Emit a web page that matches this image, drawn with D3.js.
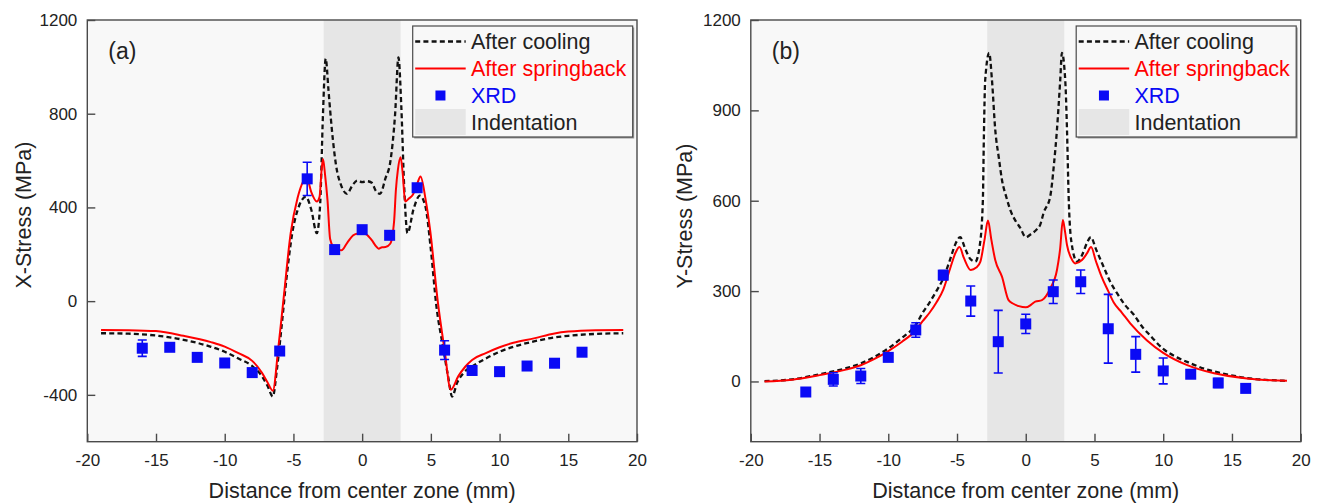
<!DOCTYPE html>
<html>
<head>
<meta charset="utf-8">
<script src="https://cdn.jsdelivr.net/npm/d3@7"></script>
<style>
  html, body { margin: 0; padding: 0; background: #fff; }
  svg { display: block; font-family: Arial, "Liberation Sans", sans-serif; }
</style>
</head>
<body>
<svg id="chart" width="1322" height="503"></svg>
<script>
// ---- shared axis data ----
const xTicks = [-20, -15, -10, -5, 0, 5, 10, 15, 20];
const xTitle = "Distance from center zone (mm)";
const indentationZone = [-2.8, 2.8];
const legendLabels = ["After cooling", "After springback", "XRD", "Indentation"];
const xrdPositions = [-16, -14, -12, -10, -8, -6, -4, -2, 0, 2, 4, 6, 8, 10, 12, 14, 16];

// ---- (a) X-stress ----
const xStressTicks = [-400, 0, 400, 800, 1200];
const xStressCooling = [
  [-19,-137],[-17,-139],[-15,-147],[-13,-165],[-11,-195],[-10,-216],[-9,-245],[-8,-277],
  [-7.3,-320],[-6.9,-360],[-6.5,-407],[-6.2,-290],[-5.9,-130],[-5.5,100],[-5.1,285],
  [-4.6,405],[-4.1,445],[-3.7,390],[-3.3,290],[-3.05,420],[-2.85,800],[-2.65,1035],
  [-2.45,900],[-2.2,730],[-1.9,580],[-1.5,490],[-1.1,458],[-0.7,495],[-0.35,515],[0,508],
  [0.35,512],[0.7,505],[1.0,470],[1.3,458],[1.7,525],[2.05,595],[2.4,800],[2.64,1040],
  [2.85,830],[3.05,500],[3.3,290],[3.75,395],[4.2,450],[4.6,405],[5.0,220],[5.4,-20],
  [5.9,-200],[6.25,-320],[6.55,-407],[6.9,-350],[7.4,-305],[8,-279],[9,-245],[10,-216],
  [11,-195],[12.5,-172],[14,-155],[15,-148],[17,-140],[19,-137]
];
const xStressSpringback = [
  [-19,-123],[-17,-124],[-15,-128],[-13,-148],[-11,-175],[-10,-194],[-9,-222],[-8,-255],
  [-7.3,-305],[-6.9,-345],[-6.5,-382],[-6.1,-200],[-5.7,20],[-5.2,290],[-4.7,440],
  [-4.3,510],[-4.05,530],[-3.7,465],[-3.3,425],[-3.1,445],[-2.95,560],[-2.85,607],
  [-2.7,540],[-2.52,430],[-2.33,265],[-2.1,232],[-1.8,220],[-1.5,217],[-1.1,248],
  [-0.65,281],[-0.3,289],[0,290],[0.3,285],[0.7,260],[1.0,235],[1.2,224],[1.45,230],
  [1.7,231],[2.04,245],[2.33,345],[2.45,470],[2.6,560],[2.8,614],[2.95,545],[3.13,425],
  [3.4,438],[3.7,455],[4.0,500],[4.25,532],[4.6,440],[4.95,302],[5.5,0],[6.0,-209],
  [6.45,-378],[7.0,-320],[7.5,-280],[8,-251],[9,-222],[10,-197],[11,-178],[12.5,-159],
  [14,-138],[15,-130],[17,-124],[19,-123]
];
const xStressXRD    = [-201, -197, -240, -264, -305, -213, 522, 220, 305, 281, 484, -209, -296, -301, -277, -265, -218];
const xStressXRDErr = [  35,   12,    0,    0,    0,    0,  71,   0,   0,   0,   0,   40,    0,    0,    0,    0,    0];

// ---- (b) Y-stress ----
const yStressTicks = [0, 300, 600, 900, 1200];
const yStressCooling = [
  [-19,1],[-17,7],[-15,24],[-13,45],[-12,60],[-11,82],[-10,110],[-9,145],[-8,188],
  [-7.5,228],[-7,262],[-6.5,300],[-6,342],[-5.5,405],[-5.1,458],[-4.77,479],[-4.4,440],
  [-4.0,405],[-3.67,398],[-3.35,450],[-3.12,600],[-3.05,800],[-2.95,1000],[-2.66,1091],
  [-2.46,1002],[-2.22,836],[-1.95,740],[-1.73,669],[-1.4,610],[-1.13,570],[-0.7,530],
  [-0.4,510],[0,479],[0.4,490],[0.81,505],[1.05,520],[1.3,560],[1.78,614],[2.05,720],
  [2.27,836],[2.51,1002],[2.63,1091],[2.87,1002],[3.0,836],[3.12,614],[3.3,470],
  [3.73,398],[4.1,420],[4.45,460],[4.74,479],[5.1,440],[5.66,381],[6.1,335],[6.64,293],
  [7.2,255],[7.85,222],[8.5,180],[9,155],[10,108],[11,80],[12,60],[13,42],[14,30],
  [16,12],[19,2]
];
const yStressSpringback = [
  [-19,0],[-17,6],[-15,21],[-13,40],[-12,54],[-11,75],[-10,101],[-9,132],[-8,170],
  [-7.5,200],[-7,228],[-6.5,262],[-6,305],[-5.5,375],[-5.1,428],[-4.82,446],[-4.5,410],
  [-4.0,370],[-3.6,378],[-3.3,398],[-3.0,470],[-2.75,534],[-2.5,470],[-2.22,403],
  [-1.73,348],[-1.25,270],[-0.9,258],[-0.5,250],[0,246],[0.4,255],[0.69,265],[1.18,270],
  [1.5,285],[1.78,309],[2.27,370],[2.5,440],[2.7,536],[2.85,500],[3.0,453],[3.3,410],
  [3.6,392],[4.09,403],[4.45,425],[4.75,446],[5.1,400],[5.5,350],[6.0,300],[6.4,262],
  [7.0,228],[7.6,193],[8.8,137],[10,95],[11.7,55],[13.7,27],[16.1,10],[19,2]
];
const yStressXRD    = [-35, 7, 18, 80, 171, 353, 267, 132, 191, 298, 331, 175, 90, 35, 24, -5, -23];
const yStressXRDErr = [  0, 22, 25,  0,  24,  15,  50, 104,  32,  39,  39, 114, 59, 43,  0, 15,   0];

// ---- styles ----
const COLORS = { cooling: "#111", springback: "#ff0000", xrd: "#0a0af5", band: "#e6e6e6",
                 plotBg: "#f8f8f8", frame: "#4a4a4a", text: "#222" };

const panels = [
  { left: 87.3, right: 637, top: 20, bottom: 441.7, yDomain: [-600, 1200], yTicks: xStressTicks,
    yTitle: "X-Stress (MPa)", titleX: 31, titleY: 215, tag: "(a)",
    cooling: xStressCooling, springback: xStressSpringback, xrd: xStressXRD, err: xStressXRDErr },
  { left: 750.8, right: 1300.7, top: 20, bottom: 441.7, yDomain: [-200, 1200], yTicks: yStressTicks,
    yTitle: "Y-Stress (MPa)", titleX: 692, titleY: 216, tag: "(b)",
    cooling: yStressCooling, springback: yStressSpringback, xrd: yStressXRD, err: yStressXRDErr }
];

// plain hyphen-minus for negative tick labels
const plainFormat = d => String(d);

const svg = d3.select("#chart");

panels.forEach((p, idx) => {
  const g = svg.append("g");
  const x = d3.scaleLinear().domain([-20, 20]).range([p.left, p.right]);
  const y = d3.scaleLinear().domain(p.yDomain).range([p.bottom, p.top]);
  const clipId = "clip" + idx;

  g.append("clipPath").attr("id", clipId).append("rect")
    .attr("x", p.left).attr("y", p.top).attr("width", p.right - p.left).attr("height", p.bottom - p.top);

  // plot background
  g.append("rect").attr("x", p.left).attr("y", p.top)
    .attr("width", p.right - p.left).attr("height", p.bottom - p.top).attr("fill", COLORS.plotBg);

  // indentation zone
  g.append("rect").attr("x", x(indentationZone[0])).attr("y", p.top)
    .attr("width", x(indentationZone[1]) - x(indentationZone[0])).attr("height", p.bottom - p.top)
    .attr("fill", COLORS.band);

  const line = d3.line().x(d => x(d[0])).y(d => y(d[1])).curve(d3.curveMonotoneX);
  const plot = g.append("g").attr("clip-path", `url(#${clipId})`);

  plot.append("path").datum(p.cooling).attr("d", line).attr("fill", "none")
    .attr("stroke", COLORS.cooling).attr("stroke-width", 2.3).attr("stroke-dasharray", "5,3.2");
  plot.append("path").datum(p.springback).attr("d", line).attr("fill", "none")
    .attr("stroke", COLORS.springback).attr("stroke-width", 2);

  // XRD measurements with error bars
  const pts = xrdPositions.map((xv, i) => ({ x: xv, v: p.xrd[i], e: p.err[i] }));
  const eb = plot.append("g").attr("stroke", COLORS.xrd).attr("stroke-width", 1.6);
  pts.filter(d => d.e > 0).forEach(d => {
    eb.append("line").attr("x1", x(d.x)).attr("x2", x(d.x)).attr("y1", y(d.v - d.e)).attr("y2", y(d.v + d.e));
    [d.v - d.e, d.v + d.e].forEach(c => {
      eb.append("line").attr("x1", x(d.x) - 4.5).attr("x2", x(d.x) + 4.5).attr("y1", y(c)).attr("y2", y(c));
    });
  });
  const ms = 11;
  plot.append("g").selectAll("rect").data(pts).join("rect")
    .attr("x", d => x(d.x) - ms / 2).attr("y", d => y(d.v) - ms / 2)
    .attr("width", ms).attr("height", ms).attr("fill", COLORS.xrd);

  // frame
  g.append("rect").attr("x", p.left).attr("y", p.top)
    .attr("width", p.right - p.left).attr("height", p.bottom - p.top)
    .attr("fill", "none").attr("stroke", COLORS.frame).attr("stroke-width", 1.4);

  // bottom axis (ticks point inward)
  const xAxis = d3.axisBottom(x).tickValues(xTicks).tickSize(-8).tickPadding(12).tickFormat(plainFormat);
  const gx = g.append("g").attr("transform", `translate(0,${p.bottom})`).call(xAxis);
  gx.select(".domain").remove();
  gx.selectAll(".tick line").attr("stroke", COLORS.frame).attr("stroke-width", 1.4);
  gx.selectAll(".tick text").attr("font-size", 17).attr("fill", COLORS.text)
    .attr("font-family", "Arial, 'Liberation Sans', sans-serif");

  // left axis
  const yAxis = d3.axisLeft(y).tickValues(p.yTicks).tickSize(-8).tickPadding(10).tickFormat(plainFormat);
  const gy = g.append("g").attr("transform", `translate(${p.left},0)`).call(yAxis);
  gy.select(".domain").remove();
  gy.selectAll(".tick line").attr("stroke", COLORS.frame).attr("stroke-width", 1.4);
  gy.selectAll(".tick text").attr("font-size", 17).attr("fill", COLORS.text)
    .attr("font-family", "Arial, 'Liberation Sans', sans-serif");

  // axis titles
  g.append("text").attr("x", (p.left + p.right) / 2).attr("y", 498)
    .attr("text-anchor", "middle").attr("font-size", 21.5).attr("fill", COLORS.text).text(xTitle);
  g.append("text").attr("transform", `translate(${p.titleX},${p.titleY}) rotate(-90)`)
    .attr("text-anchor", "middle").attr("font-size", 21.5).attr("fill", COLORS.text).text(p.yTitle);

  // panel tag
  g.append("text").attr("x", p.left + 21).attr("y", 59)
    .attr("font-size", 23).attr("fill", COLORS.text).text(p.tag);

  // legend
  const lx = p.left + 325.4, ly = 26, lw = 220, lh = 111;
  const lg = g.append("g");
  lg.append("rect").attr("x", lx + 1.5).attr("y", ly + 1.5).attr("width", lw).attr("height", lh)
    .attr("fill", "#9a9a9a");
  lg.append("rect").attr("x", lx).attr("y", ly).attr("width", lw).attr("height", lh)
    .attr("fill", COLORS.plotBg).attr("stroke", COLORS.frame).attr("stroke-width", 1.2);
  const rowC = i => ly + 15.5 + 27 * i;
  const sx0 = lx + 2.5, sx1 = lx + 53, tx = lx + 58.3;
  lg.append("line").attr("x1", sx0).attr("x2", sx1).attr("y1", rowC(0)).attr("y2", rowC(0))
    .attr("stroke", COLORS.cooling).attr("stroke-width", 2.3).attr("stroke-dasharray", "5,3.2");
  lg.append("line").attr("x1", sx0).attr("x2", sx1).attr("y1", rowC(1)).attr("y2", rowC(1))
    .attr("stroke", COLORS.springback).attr("stroke-width", 2);
  lg.append("rect").attr("x", (sx0 + sx1) / 2 - 5).attr("y", rowC(2) - 5).attr("width", 10).attr("height", 10)
    .attr("fill", COLORS.xrd);
  lg.append("rect").attr("x", sx0).attr("y", rowC(3) - 13.5).attr("width", sx1 - sx0).attr("height", 26)
    .attr("fill", COLORS.band);
  const legendColors = [COLORS.text, COLORS.springback, COLORS.xrd, COLORS.text];
  legendLabels.forEach((t, i) => {
    lg.append("text").attr("x", tx).attr("y", rowC(i) + 7).attr("font-size", 21.5)
      .attr("fill", legendColors[i]).text(t);
  });
});
</script>
</body>
</html>
